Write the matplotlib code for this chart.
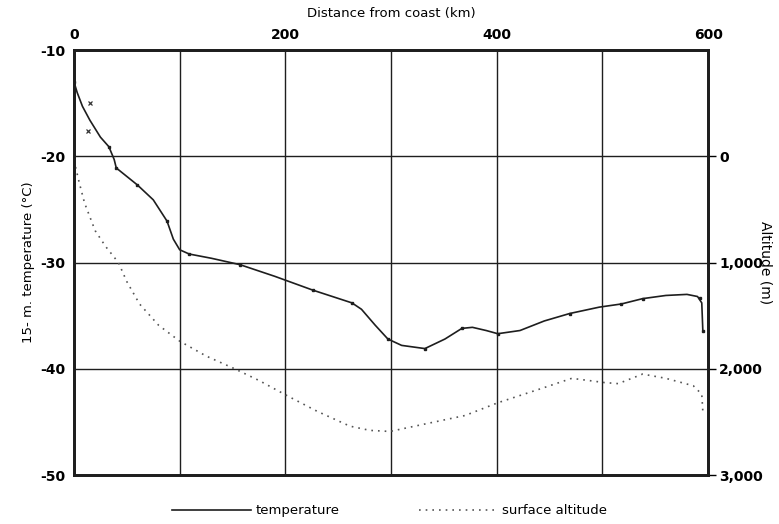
import matplotlib.pyplot as plt
from matplotlib.lines import Line2D

# temperatura 15 m (odczyt z wykresu)
temp_km = [0, 3, 8, 15, 25, 33, 38, 40, 50, 60, 75, 88, 94, 100, 109, 130, 157,
           190, 226, 263, 272, 285, 297, 310, 332, 351, 367, 377, 390, 401, 422,
           445, 469, 497, 518, 538, 560, 580, 590, 594, 595]
temp_c = [-13.0, -14.0, -15.3, -16.6, -18.2, -19.1, -20.3, -21.1, -21.9, -22.7,
          -24.1, -26.1, -27.8, -28.8, -29.2, -29.6, -30.2, -31.3, -32.6, -33.8,
          -34.4, -35.9, -37.2, -37.8, -38.1, -37.2, -36.2, -36.1, -36.4, -36.7,
          -36.4, -35.5, -34.8, -34.2, -33.9, -33.4, -33.1, -33.0, -33.2, -33.8,
          -36.4]
mark_km = [0, 33, 40, 60, 88, 109, 157, 226, 263, 297, 332, 367, 401, 469, 518,
           538, 592, 595]
mark_c = [-13.0, -19.1, -21.1, -22.7, -26.1, -29.2, -30.2, -32.6, -33.8, -37.2,
          -38.1, -36.2, -36.7, -34.8, -33.9, -33.4, -33.3, -36.4]
extra_km = [15, 13]
extra_c = [-15.0, -17.6]

# wysokość powierzchni
alt_km = [0, 5, 10, 20, 30, 42, 50, 62, 80, 100, 125, 152, 175, 201, 230, 261,
          280, 299, 332, 370, 401, 444, 471, 502, 515, 538, 560, 586, 594, 595]
alt_m = [40, 250, 440, 700, 850, 1000, 1180, 1390, 1590, 1740, 1880, 2000, 2110,
         2250, 2400, 2540, 2580, 2590, 2520, 2440, 2320, 2180, 2090, 2130, 2140,
         2050, 2090, 2160, 2240, 2400]

ink = '#1e1e1e'

fig = plt.figure(figsize=(7.79, 5.24), dpi=100)
ax = fig.add_axes([0.095, 0.0935, 0.814, 0.811])

ax.plot(temp_km, temp_c, color=ink, lw=1.2)
ax.plot(mark_km, mark_c, ls='none', marker='s', ms=2, color=ink)
ax.plot(extra_km, extra_c, ls='none', marker='x', ms=3, mew=0.9, color='#333333')

ax.set_xlim(0, 600)
ax.set_ylim(-50, -10)
ax.set_yticks([-10, -20, -30, -40, -50])
ax.set_yticklabels(['-10', '-20', '-30', '-40', '-50'])
ax.set_xticks([0, 100, 200, 300, 400, 500, 600])
ax.xaxis.tick_top()
ax.set_xticklabels(['0', '', '200', '', '400', '', '600'])
ax.xaxis.set_label_position('top')
ax.set_xlabel('Distance from coast (km)', fontsize=9.5, labelpad=8)
ax.set_ylabel('15- m. temperature (°C)', fontsize=9.5, labelpad=4)
ax.tick_params(axis='both', length=0, labelsize=10, pad=6)
for lab in ax.get_xticklabels() + ax.get_yticklabels():
    lab.set_fontweight('bold')
ax.grid(True, color=ink, lw=1.0)
for s in ax.spines.values():
    s.set_linewidth(2)
    s.set_color(ink)

ax2 = ax.twinx()
ax2.plot(alt_km, alt_m, color='#555555', lw=1.2, ls=(0, (1, 3)))
ax2.set_ylim(3000, -1000)
ax2.set_yticks([0, 1000, 2000, 3000])
ax2.set_yticklabels(['0', '1,000', '2,000', '3,000'])
ax2.tick_params(axis='y', length=6, width=1, labelsize=10, pad=2)
for lab in ax2.get_yticklabels():
    lab.set_fontweight('bold')
ax2.set_ylabel('Altitude (m)', rotation=-90, fontsize=10, labelpad=7)
for s in ax2.spines.values():
    s.set_linewidth(2)
    s.set_color(ink)

handles = [Line2D([], [], color=ink, lw=1.2),
           Line2D([], [], color='#555555', lw=1.2, ls=(0, (1, 3)))]
leg = fig.legend(handles, ['temperature', 'surface altitude'], loc='lower center',
                 bbox_to_anchor=(0.5, -0.01), ncol=2, frameon=False, fontsize=9.5,
                 handlelength=6, columnspacing=6, handletextpad=0.3)

fig.savefig('out.png', dpi=100, facecolor='white')
